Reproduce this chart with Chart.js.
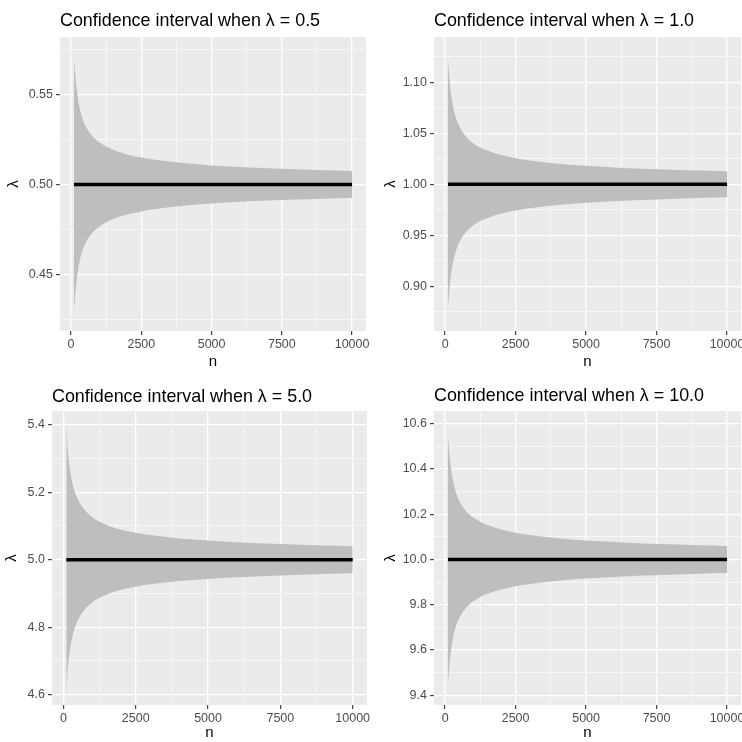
<!DOCTYPE html>
<html>
<head>
<meta charset="utf-8">
<title>Confidence intervals for lambda</title>
<script src="https://cdn.jsdelivr.net/npm/chart.js@4.4.1/dist/chart.umd.min.js"></script>
<style>
  body { margin: 0; background: #ffffff; }
  #wrap { position: relative; width: 742px; height: 742px; overflow: hidden; }
  canvas { position: absolute; }
</style>
</head>
<body>
<div id="wrap">
  <canvas id="p1" width="371" height="371" style="left:0;top:0"></canvas>
  <canvas id="p2" width="371" height="371" style="left:371px;top:0"></canvas>
  <canvas id="p3" width="371" height="368" style="left:0;top:374px"></canvas>
  <canvas id="p4" width="371" height="368" style="left:371px;top:374px"></canvas>
</div>
<script>
const nValues = [100, 150, 200, 300, 400, 500, 700, 1000, 1500, 2000, 2500, 3000, 4000, 5000, 6000, 7000, 8000, 9000, 10000];

const upper05 = [0.5705, 0.561, 0.553, 0.543, 0.537, 0.533, 0.528, 0.5235, 0.5193, 0.5167, 0.515, 0.5137, 0.5119, 0.5106, 0.5097, 0.509, 0.5084, 0.5079, 0.5075];
const lower05 = [0.4295, 0.439, 0.447, 0.457, 0.463, 0.467, 0.472, 0.4765, 0.4807, 0.4833, 0.485, 0.4863, 0.4881, 0.4894, 0.4903, 0.491, 0.4916, 0.4921, 0.4925];

const upper10 = [1.122, 1.104, 1.09, 1.074, 1.064, 1.057, 1.048, 1.04, 1.033, 1.0286, 1.0256, 1.0234, 1.0202, 1.0181, 1.0165, 1.0153, 1.0143, 1.0135, 1.0128];
const lower10 = [0.878, 0.896, 0.91, 0.926, 0.936, 0.943, 0.952, 0.96, 0.967, 0.9714, 0.9744, 0.9766, 0.9798, 0.9819, 0.9835, 0.9847, 0.9857, 0.9865, 0.9872];

const upper50 = [5.4, 5.327, 5.283, 5.231, 5.2, 5.179, 5.151, 5.126, 5.103, 5.089, 5.08, 5.073, 5.063, 5.057, 5.052, 5.048, 5.045, 5.042, 5.04];
const lower50 = [4.6, 4.673, 4.717, 4.769, 4.8, 4.821, 4.849, 4.874, 4.897, 4.911, 4.92, 4.927, 4.937, 4.943, 4.948, 4.952, 4.955, 4.958, 4.96];

const upper100 = [10.55, 10.47, 10.41, 10.335, 10.29, 10.26, 10.22, 10.185, 10.152, 10.132, 10.118, 10.108, 10.094, 10.084, 10.077, 10.071, 10.067, 10.063, 10.06];
const lower100 = [9.45, 9.53, 9.59, 9.665, 9.71, 9.74, 9.78, 9.815, 9.848, 9.868, 9.882, 9.892, 9.906, 9.916, 9.923, 9.929, 9.933, 9.937, 9.94];

const xTickLabels = ["0", "2500", "5000", "7500", "10000"];
const xMinor = [1250, 3750, 6250, 8750];

const yLabels05 = ["0.45", "0.50", "0.55"];
const yMinor05 = [0.425, 0.475, 0.525, 0.575];
const yLabels10 = ["0.90", "0.95", "1.00", "1.05", "1.10"];
const yMinor10 = [0.875, 0.925, 0.975, 1.025, 1.075, 1.125];
const yLabels50 = ["4.6", "4.8", "5.0", "5.2", "5.4"];
const yMinor50 = [4.7, 4.9, 5.1, 5.3];
const yLabels100 = ["9.4", "9.6", "9.8", "10.0", "10.2", "10.4", "10.6"];
const yMinor100 = [9.5, 9.7, 9.9, 10.1, 10.3, 10.5];

const FONT = "'Liberation Sans', Arial, sans-serif";

const panelBackground = {
  id: "panelBackground",
  beforeDraw(chart) {
    const a = chart.chartArea;
    const ctx = chart.ctx;
    ctx.save();
    ctx.fillStyle = "#EBEBEB";
    ctx.fillRect(a.left, a.top, a.right - a.left, a.bottom - a.top);
    ctx.restore();
  },
};

// ggplot puts the title flush with the panel's left edge
const panelTitle = {
  id: "panelTitle",
  afterDraw(chart, args, opts) {
    const ctx = chart.ctx;
    ctx.save();
    ctx.fillStyle = "#000000";
    ctx.font = "17.9px " + FONT;
    ctx.textAlign = "left";
    ctx.textBaseline = "alphabetic";
    ctx.fillText(opts.text, chart.chartArea.left, opts.baseline);
    ctx.restore();
  },
};

function isIn(list, v) {
  return list.some((s) => Math.abs(Number(s) - v) < 1e-9);
}

function labelFor(list, v) {
  const hit = list.find((s) => Math.abs(Number(s) - v) < 1e-9);
  return hit === undefined ? "" : hit;
}

function axisGrid(majors) {
  return {
    color: "#FFFFFF",
    lineWidth: (c) => (c.tick && isIn(majors, c.tick.value) ? 1.3 : 0.6),
    tickColor: (c) => (c.tick && isIn(majors, c.tick.value) ? "#333333" : "rgba(0,0,0,0)"),
    tickWidth: 1.1,
    tickLength: 4,
    drawTicks: true,
  };
}

function makePanel(id, p) {
  const xAll = xTickLabels.map(Number).concat(xMinor).sort((a, b) => a - b);
  const yAll = p.yLabels.map(Number).concat(p.yMinor).sort((a, b) => a - b);

  new Chart(document.getElementById(id), {
    type: "line",
    data: {
      datasets: [
        {
          data: nValues.map((n, i) => ({ x: n, y: p.lower[i] })),
          borderWidth: 0,
          pointRadius: 0,
          fill: false,
          order: 1,
        },
        {
          data: nValues.map((n, i) => ({ x: n, y: p.upper[i] })),
          borderWidth: 0,
          pointRadius: 0,
          backgroundColor: "#BEBEBE",
          fill: "-1",
          order: 1,
        },
        {
          data: [nValues[0], nValues[nValues.length - 1]].map((n) => ({ x: n, y: p.lambda })),
          borderColor: "#000000",
          borderWidth: 3.4,
          pointRadius: 0,
          fill: false,
          order: 0,
        },
      ],
    },
    options: {
      responsive: false,
      animation: false,
      events: [],
      cubicInterpolationMode: "monotone",
      layout: { padding: { left: 0, top: 37, right: p.rightPad, bottom: 0 } },
      plugins: {
        legend: { display: false },
        tooltip: { enabled: false },
        panelTitle: { text: p.title, baseline: p.titleBaseline },
      },
      scales: {
        x: {
          type: "linear",
          min: -395,
          max: 10495,
          border: { display: false },
          grid: axisGrid(xTickLabels),
          afterBuildTicks: (s) => {
            s.ticks = xAll.map((v) => ({ value: v }));
          },
          afterFit: (s) => {
            s.height = p.xAxisHeight;
            s.paddingLeft = 0;
            s.paddingRight = 0;
          },
          ticks: {
            autoSkip: false,
            maxRotation: 0,
            padding: 2,
            color: "#4D4D4D",
            font: { family: FONT, size: 12.5 },
            callback: (v) => labelFor(xTickLabels, v),
          },
          title: {
            display: true,
            text: "n",
            color: "#000000",
            font: { family: FONT, size: 15 },
            padding: { top: 0, bottom: 0 },
          },
        },
        y: {
          type: "linear",
          min: p.yMin,
          max: p.yMax,
          border: { display: false },
          grid: axisGrid(p.yLabels),
          afterBuildTicks: (s) => {
            s.ticks = yAll.map((v) => ({ value: v }));
          },
          afterFit: (s) => {
            s.width = p.yAxisWidth;
            s.paddingTop = 0;
            s.paddingBottom = 0;
          },
          ticks: {
            autoSkip: false,
            padding: 3,
            color: "#4D4D4D",
            font: { family: FONT, size: 12.5 },
            callback: (v) => labelFor(p.yLabels, v),
          },
          title: {
            display: true,
            text: "λ",
            color: "#000000",
            font: { family: FONT, size: 15 },
            padding: { top: p.yTitlePad, bottom: 0 },
          },
        },
      },
    },
    plugins: [panelBackground, panelTitle],
  });
}

makePanel("p1", {
  title: "Confidence interval when λ = 0.5", lambda: 0.5,
  upper: upper05, lower: lower05, yLabels: yLabels05, yMinor: yMinor05,
  yMin: 0.4184, yMax: 0.5821,
  yAxisWidth: 60, rightPad: 5, xAxisHeight: 40, yTitlePad: 4.5, titleBaseline: 26,
});

makePanel("p2", {
  title: "Confidence interval when λ = 1.0", lambda: 1.0,
  upper: upper10, lower: lower10, yLabels: yLabels10, yMinor: yMinor10,
  yMin: 0.8563, yMax: 1.1443,
  yAxisWidth: 63, rightPad: 1, xAxisHeight: 40, yTitlePad: 11, titleBaseline: 26,
});

makePanel("p3", {
  title: "Confidence interval when λ = 5.0", lambda: 5.0,
  upper: upper50, lower: lower50, yLabels: yLabels50, yMinor: yMinor50,
  yMin: 4.5695, yMax: 5.4406,
  yAxisWidth: 52, rightPad: 4, xAxisHeight: 37, yTitlePad: 3, titleBaseline: 28,
});

makePanel("p4", {
  title: "Confidence interval when λ = 10.0", lambda: 10.0,
  upper: upper100, lower: lower100, yLabels: yLabels100, yMinor: yMinor100,
  yMin: 9.357, yMax: 10.656,
  yAxisWidth: 63, rightPad: 1, xAxisHeight: 37, yTitlePad: 11, titleBaseline: 27,
});
</script>
</body>
</html>
